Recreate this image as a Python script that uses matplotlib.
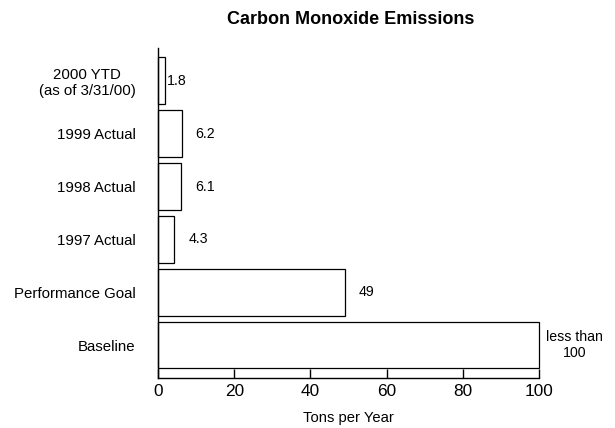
import matplotlib
matplotlib.use("Agg")
import matplotlib.pyplot as plt

categories = ["Baseline", "Performance Goal", "1997 Actual", "1998 Actual",
              "1999 Actual", "2000 YTD\n(as of 3/31/00)"]
values = [100, 49, 4.3, 6.1, 6.2, 1.8]
labels = ["less than\n100", "49", "4.3", "6.1", "6.2", "1.8"]
label_offsets = [25.5, 10, 10, 10, 10, 1.5]
xticks = [0, 20, 40, 60, 80, 100]

plt.rcParams['font.family'] = ['Liberation Sans', 'DejaVu Sans']

fig = plt.figure(figsize=(6.15, 4.28), dpi=100)
ax = fig.add_axes([0.257, 0.1168, 0.6195, 0.7712])

y = list(range(len(categories)))
bars = ax.barh(y, values, height=0.88, color='white', edgecolor='black', linewidth=0.9)
for b in bars:
    b.set_clip_on(False)

for yi, v, lab, off in zip(y, values, labels, label_offsets):
    ax.annotate(lab, xy=(v, yi), xytext=(off, 0), textcoords='offset points',
                ha='center' if '\n' in lab else 'left', va='center', fontsize=10.2)

ax.set_xlim(0, 100)
ax.set_ylim(-0.62, 5.62)
ax.set_yticks(y)
ax.set_yticklabels(categories, fontsize=10.8)
ax.tick_params(axis='y', length=0, pad=16)
ax.set_xticks(xticks)
ax.set_xticklabels([str(t) for t in xticks], fontsize=12.4)
ax.tick_params(axis='x', direction='in', length=6.5, width=1, pad=4)
for lab in ax.get_yticklabels():
    lab.set_horizontalalignment('right')
    lab.set_multialignment('center')

ax.spines['top'].set_visible(False)
ax.spines['right'].set_visible(False)
ax.spines['left'].set_linewidth(1)
ax.spines['bottom'].set_linewidth(1)

ax.set_xlabel("Tons per Year", fontsize=10.6, labelpad=9)
fig.suptitle("Carbon Monoxide Emissions", fontsize=13, fontweight='bold',
             x=0.57, y=0.975)

fig.savefig("out.png", dpi=100)
